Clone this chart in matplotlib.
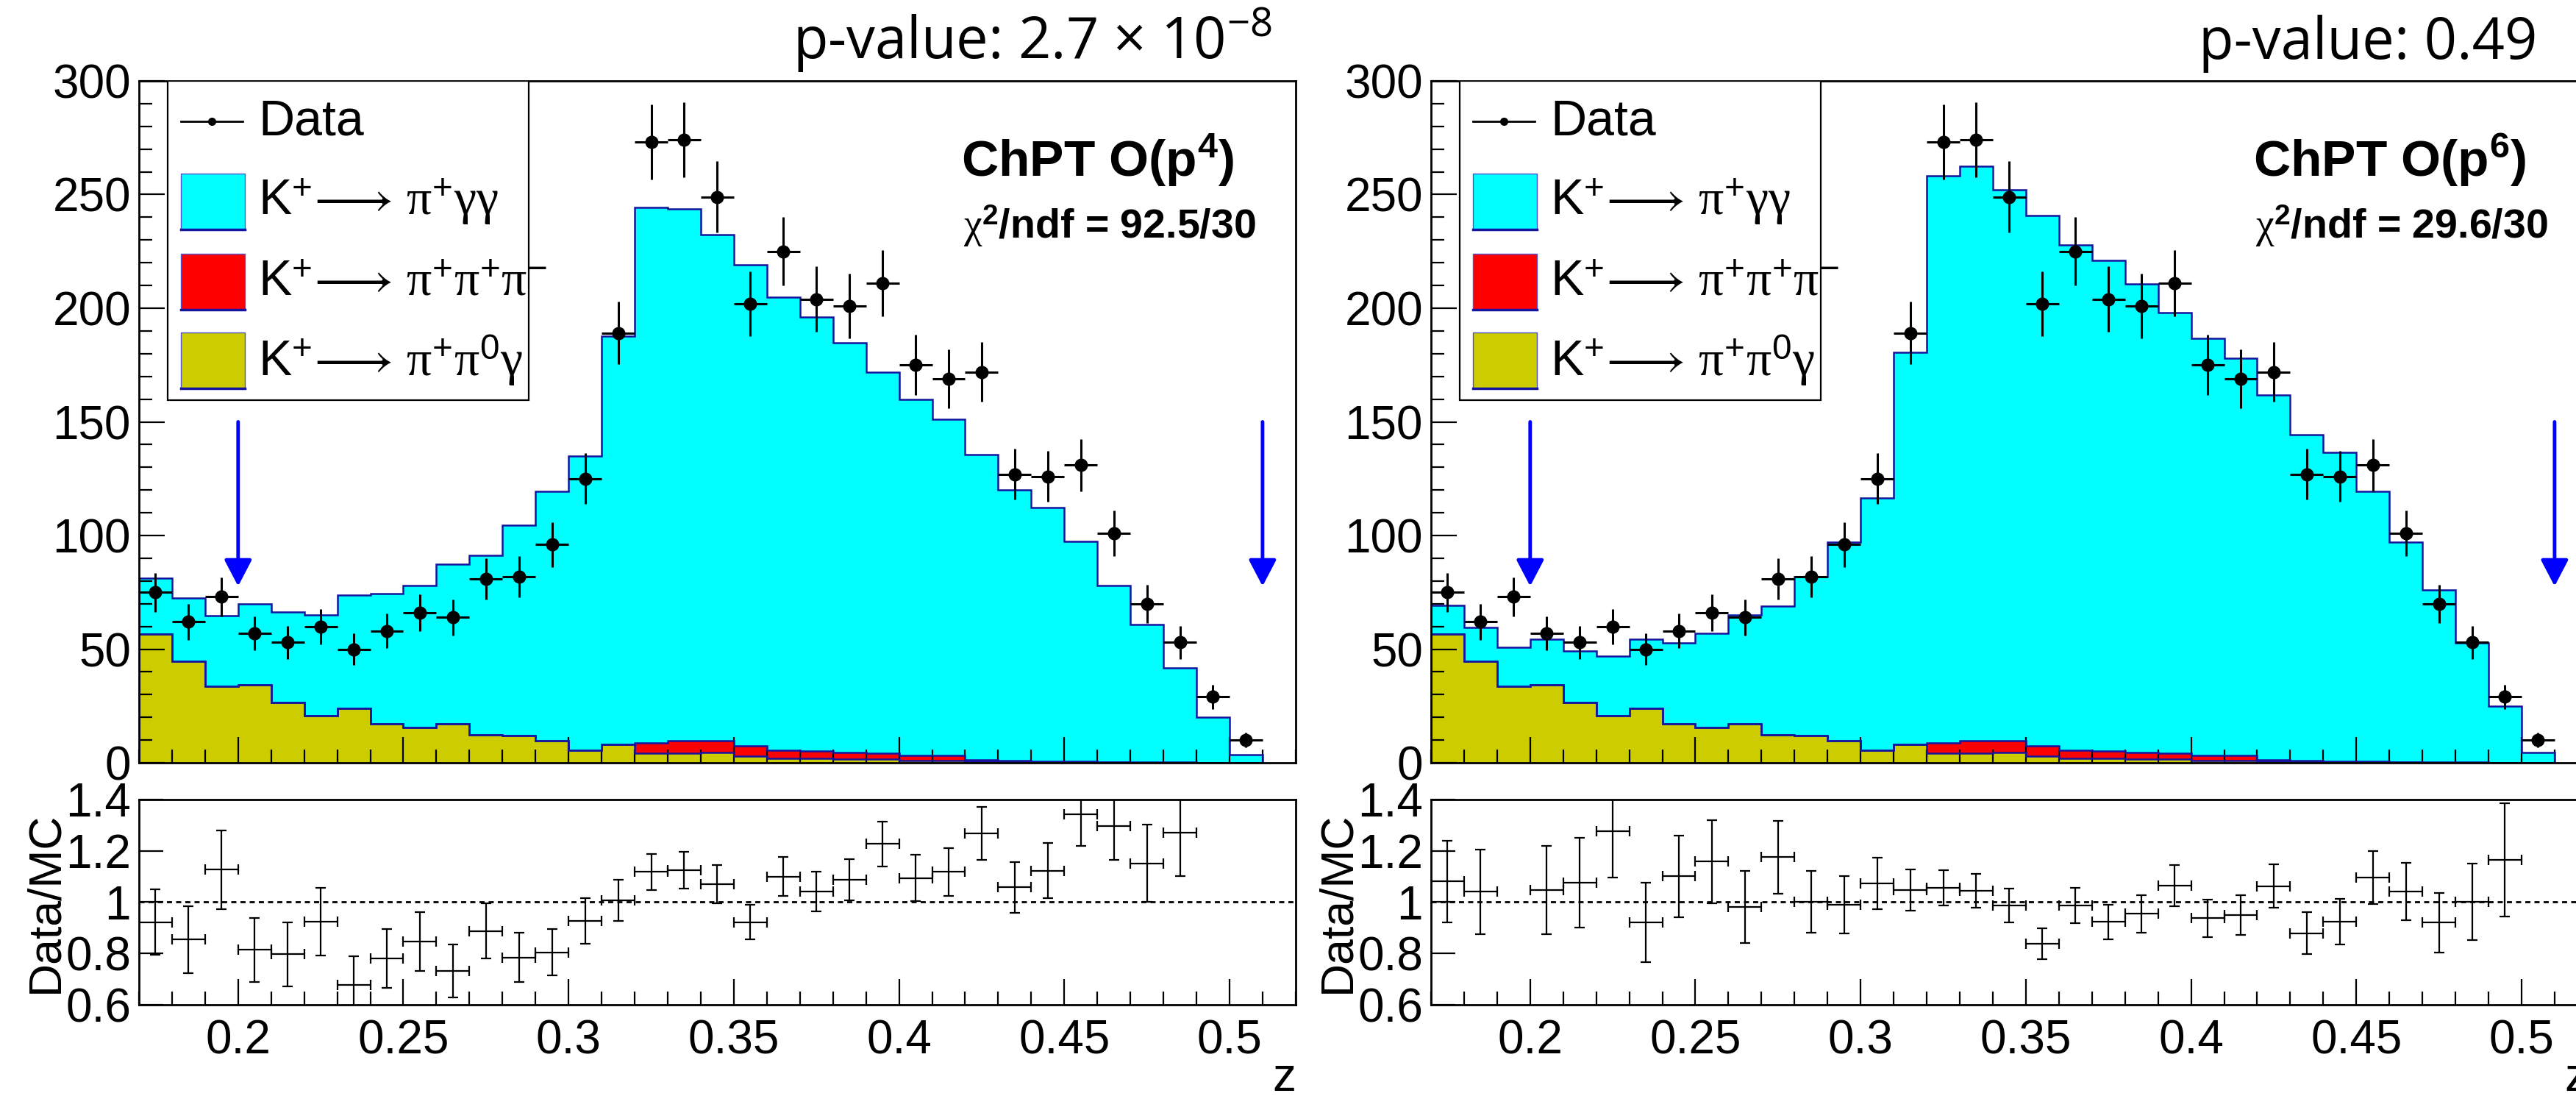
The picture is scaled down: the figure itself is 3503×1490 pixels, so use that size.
import numpy as np
import matplotlib.pyplot as plt
from matplotlib.patches import Rectangle
from matplotlib.lines import Line2D
from matplotlib.ticker import MultipleLocator, FixedLocator, FixedFormatter, FormatStrFormatter

plt.rcParams['font.family'] = ['Liberation Sans', 'DejaVu Sans']
plt.rcParams['mathtext.fontset'] = 'custom'
plt.rcParams['mathtext.rm'] = 'Liberation Serif'
plt.rcParams['mathtext.it'] = 'Liberation Serif:italic'
plt.rcParams['mathtext.sf'] = 'Liberation Sans'
plt.rcParams['mathtext.bf'] = 'Liberation Sans:bold'
plt.rcParams['mathtext.fallback'] = 'stix'

# z binning: 34 bins of 0.01 from 0.17 to 0.51
edges = np.linspace(0.17, 0.51, 35)
centers = edges[:-1] + 0.005

# data counts per bin
data = np.array([75, 62, 73, 57, 53, 60, 50, 58, 66, 64,
                 81, 82, 96, 125, 189, 273, 274, 249, 202, 225,
                 204, 201, 211, 175, 169, 172, 127, 126, 131, 101,
                 70, 53, 29, 10], dtype=float)

# backgrounds (same in both fits)
pi0gamma = np.array([56.7, 44.8, 33.6, 34.4, 26.7, 20.7, 24.1, 17.2, 15.7, 17.2,
                     12.2, 11.9, 9.6, 5.6, 8.0, 4.3, 4.3, 4.6, 3.0, 1.9,
                     1.9, 1.6, 1.6, 1.0, 1.0, 0.6, 0.4, 0.3, 0.2, 0.2,
                     0.1, 0.1, 0.1, 0.0])
pipipi = np.array([0, 0, 0, 0, 0, 0, 0, 0, 0, 0,
                   0, 0, 0, 0, 0, 4.4, 5.3, 5.0, 4.6, 3.7,
                   3.4, 2.9, 2.5, 2.4, 2.2, 0.8, 0.5, 0.4, 0.3, 0.2,
                   0.1, 0.1, 0.0, 0.0])

# K+ -> pi+ gamma gamma signal, O(p4) and O(p6)
signal_p4 = np.array([24.6, 27.8, 31.2, 35.6, 39.8, 44.3, 49.7, 57.1, 62.2, 70.2,
                      79.0, 92.6, 109.8, 129.2, 179.6, 235.5, 234.0, 222.9, 211.5, 199.1,
                      190.7, 180.3, 167.9, 156.5, 148.0, 134.3, 119.2, 111.5, 97.0, 77.5,
                      60.6, 41.5, 19.9, 3.6])
signal_p6 = np.array([12.7, 14.8, 17.3, 20.0, 22.5, 26.3, 30.2, 35.5, 41.3, 48.0,
                      56.7, 70.0, 87.4, 111.0, 172.5, 249.6, 252.9, 242.4, 233.3, 222.3,
                      215.8, 206.1, 194.0, 183.3, 174.8, 160.4, 143.5, 135.8, 119.0, 96.6,
                      75.9, 52.7, 24.8, 4.5])

# Data/MC uncertainties
ratio_err_p4 = np.array([0.128, 0.130, 0.153, 0.125, 0.125, 0.132, 0.113, 0.115, 0.115, 0.104,
                         0.108, 0.096, 0.090, 0.088, 0.080, 0.071, 0.072, 0.074, 0.068, 0.076,
                         0.077, 0.081, 0.088, 0.090, 0.092, 0.103, 0.100, 0.107, 0.123, 0.131,
                         0.150, 0.170, 0.250, 0.900])
ratio_err_p6 = np.array([0.159, 0.165, 0.200, 0.172, 0.175, 0.180, 0.155, 0.160, 0.163, 0.140,
                         0.142, 0.121, 0.112, 0.100, 0.080, 0.069, 0.066, 0.066, 0.060, 0.068,
                         0.068, 0.073, 0.080, 0.073, 0.077, 0.085, 0.083, 0.089, 0.102, 0.112,
                         0.117, 0.150, 0.220, 0.900])

cut_positions = [0.20, 0.51]

legend_labels = [
    'Data',
    r'$\mathsf{K}^{\mathsf{+}}\!\longrightarrow\,\mathrm{\pi}^{\mathsf{+}}\mathrm{\gamma\gamma}$',
    r'$\mathsf{K}^{\mathsf{+}}\!\longrightarrow\,\mathrm{\pi}^{\mathsf{+}}\mathrm{\pi}^{\mathsf{+}}\mathrm{\pi}^{\mathsf{-}}$',
    r'$\mathsf{K}^{\mathsf{+}}\!\longrightarrow\,\mathrm{\pi}^{\mathsf{+}}\mathrm{\pi}^{\mathsf{0}}\mathrm{\gamma}$',
]

CYAN = '#00ffff'
RED = '#ff0000'
OLIVE = '#cccc00'
NAVY = '#1414a0'

fig = plt.figure(figsize=(35.03, 14.90), dpi=100)


def style_axis(a):
    a.set_xlim(0.17, 0.52)
    a.xaxis.set_major_locator(MultipleLocator(0.05))
    a.xaxis.set_minor_locator(MultipleLocator(0.01))
    a.tick_params(which='both', direction='in', top=False, right=False,
                  width=1.6, labelsize=46, pad=8)
    a.tick_params(which='major', length=25)
    a.tick_params(which='minor', length=13)
    for s in a.spines.values():
        s.set_linewidth(2)


def draw_panel(left, signal, ratio_err, model_text, chi2_text, pvalue_text, pvalue_x):
    ax = fig.add_axes([left, 0.3040, 0.4490, 0.6222])
    rax = fig.add_axes([left, 0.0832, 0.4490, 0.1873])

    bkg = pi0gamma + pipipi
    total = bkg + signal

    # stacked histograms
    for top, col in [(total, CYAN), (bkg, RED), (pi0gamma, OLIVE)]:
        ax.stairs(top, edges, fill=True, color=col, zorder=1)
        ax.stairs(top, edges, color=NAVY, lw=1.8, zorder=2)

    ax.errorbar(centers, data, xerr=0.005, yerr=np.sqrt(data), fmt='o',
                color='black', ms=12, elinewidth=2.2, capsize=0, zorder=4)

    for zc in cut_positions:
        ax.annotate('', xy=(zc, 77.7), xytext=(zc, 150),
                    arrowprops=dict(arrowstyle='-|>,head_length=2.2,head_width=1.15',
                                    mutation_scale=10, lw=3.5, color='#0000ff',
                                    shrinkA=0, shrinkB=0), zorder=5)

    style_axis(ax)
    ax.set_ylim(0, 300)
    ax.yaxis.set_major_locator(MultipleLocator(50))
    ax.yaxis.set_minor_locator(MultipleLocator(10))
    ax.tick_params(labelbottom=False)

    # legend box
    ax.add_patch(Rectangle((0.0248, 0.532), 0.312, 0.468, transform=ax.transAxes,
                           facecolor='white', edgecolor='black', lw=1.6, zorder=6))
    ys = [0.9406, 0.823, 0.705, 0.590]
    ax.add_line(Line2D([0.0362, 0.0896], [ys[0], ys[0]], transform=ax.transAxes,
                       color='black', lw=2, zorder=7))
    ax.plot([0.063], [ys[0]], 'o', color='black', ms=7, transform=ax.transAxes, zorder=8)
    for y, col in zip(ys[1:], [CYAN, RED, OLIVE]):
        ax.add_patch(Rectangle((0.0362, y - 0.041), 0.0553, 0.082, transform=ax.transAxes,
                               facecolor=col, edgecolor='#5050d0', lw=1.0, zorder=7))
        ax.add_line(Line2D([0.0362, 0.0915], [y - 0.041, y - 0.041], transform=ax.transAxes,
                           color=NAVY, lw=2.5, zorder=8))
    for y, lab in zip(ys, legend_labels):
        ax.text(0.103, y, lab, transform=ax.transAxes, fontsize=49,
                ha='left', va='center', zorder=9)

    ax.text(0.711, 0.860, model_text, transform=ax.transAxes, fontsize=50,
            fontweight='bold', ha='left', va='baseline')
    ax.text(0.713, 0.769, chi2_text, transform=ax.transAxes, fontsize=40,
            fontweight='bold', ha='left', va='baseline')

    fig.text(pvalue_x, 0.9463, pvalue_text, fontsize=56, family='Open Sans',
             ha='right', va='baseline')

    # ratio panel
    ratio = data / total
    show = (ratio >= 0.6) & (ratio <= 1.4)
    rax.axhline(1.0, color='black', lw=2, ls=(0, (2.5, 2)), zorder=1)
    rax.errorbar(centers[show], ratio[show], xerr=0.005, yerr=ratio_err[show], fmt='none',
                 ecolor='black', elinewidth=1.6, capsize=5, capthick=1.6, zorder=3)
    style_axis(rax)
    rax.set_ylim(0.6, 1.4)
    rax.yaxis.set_major_locator(FixedLocator([0.6, 0.8, 1.0, 1.2, 1.4]))
    rax.yaxis.set_major_formatter(FixedFormatter(['0.6', '0.8', '1', '1.2', '1.4']))
    rax.xaxis.set_major_formatter(FormatStrFormatter('%g'))
    rax.tick_params(axis='x', pad=14)
    rax.tick_params(axis='y', which='major', length=24)
    rax.text(-0.081, 0.5, 'Data/MC', transform=rax.transAxes, rotation=90,
             fontsize=45, ha='center', va='center')
    rax.text(1.0, -0.36, 'z', transform=rax.transAxes, fontsize=46,
             ha='right', va='center')


draw_panel(0.05395, signal_p4, ratio_err_p4, r'ChPT O(p$\mathregular{^{4}}$)',
           r'$\mathrm{\chi}^{\mathregular{2}}$/ndf = 92.5/30',
           r'p-value: 2.7 × 10$\mathregular{^{-8}}$', 0.4936)
draw_panel(0.55552, signal_p6, ratio_err_p6, r'ChPT O(p$\mathregular{^{6}}$)',
           r'$\mathrm{\chi}^{\mathregular{2}}$/ndf = 29.6/30',
           'p-value: 0.49', 0.9849)

fig.savefig('out.png', dpi=100)
plt.close(fig)
